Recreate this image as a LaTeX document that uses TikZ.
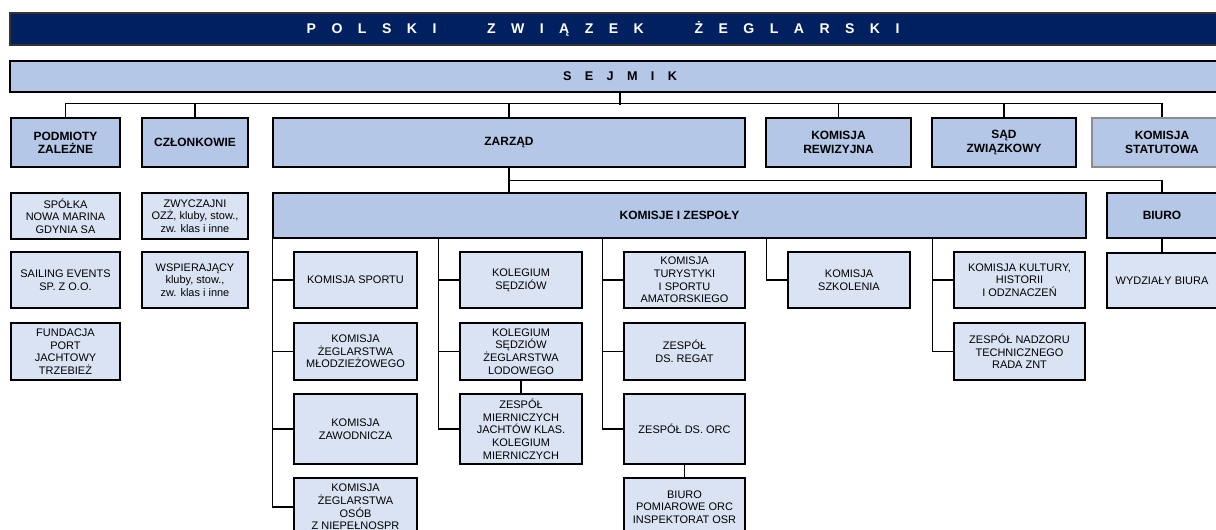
\documentclass[tikz,border=0pt]{standalone}
\usepackage{fontspec}
\setmainfont{Liberation Sans}

\definecolor{pzsnavy}{RGB}{0,32,96}
\definecolor{pzsblue}{RGB}{180,199,231}
\definecolor{pzslight}{RGB}{218,227,243}

\begin{document}
\begin{tikzpicture}
  [x=0.025cm, y=-0.025cm,
   titlebar/.style={rectangle, draw=black!80, line width=1pt, inner sep=0pt, minimum width=30.5cm},
   orgunit/.style={rectangle, draw, line width=1pt, fill=pzsblue, inner sep=0pt, align=center,
                   minimum height=1.225cm, font=\fontsize{8.5}{9.5}\selectfont\bfseries},
   subunit/.style={rectangle, draw, line width=1pt, fill=pzslight, inner sep=0pt, align=center,
                   minimum width=3.05cm, minimum height=1.4cm, font=\fontsize{7.8}{9}\selectfont},
   link/.style={draw, line width=1pt},]
  \useasboundingbox (0,0) rectangle (1216,529);
  \clip (0,0) rectangle (1216,529);

  % naglowek i sejmik
  \node[titlebar, fill=pzsnavy, text=white, minimum height=0.8cm, font=\fontsize{10}{12}\selectfont\bfseries] (pzs) at (620,29)
    {\spaceskip=11pt P O L S K I\hspace{36pt}Z W I Ą Z E K\hspace{36pt}Ż E G L A R S K I\hspace*{24pt}};
  \node[titlebar, fill=pzsblue, draw=black, minimum height=0.775cm, font=\fontsize{9}{11}\selectfont\bfseries] (sejmik) at (620,76.5)
    {\spaceskip=9.5pt S E J M I K};

  % organy
  \node[orgunit, minimum width=2.725cm] (podm) at (65.5,142.5) {PODMIOTY\\ZALEŻNE};
  \node[orgunit, minimum width=2.65cm] (czl) at (195,142.5) {CZŁONKOWIE};
  \node[orgunit, minimum width=11.8cm] (zarz) at (509,142.5) {ZARZĄD};
  \node[orgunit, minimum width=3.625cm] (rew) at (838.5,142.5) {KOMISJA\\REWIZYJNA};
  \node[orgunit, minimum width=3.6cm] (sad) at (1004,142.5) {SĄD\\ZWIĄZKOWY};
  \node[orgunit, draw=black!45, minimum width=3.5cm] (stat) at (1162,142.5) {KOMISJA\\STATUTOWA};

  \node[orgunit, minimum width=20.325cm, minimum height=1.125cm] (kz) at (679.5,215.5) {KOMISJE I ZESPOŁY};
  \node[orgunit, minimum width=2.75cm, minimum height=1.125cm] (biuro) at (1162,215.5) {BIURO};

  % podmioty i czlonkowie
  \node[subunit, minimum width=2.725cm, minimum height=1.15cm] (spolka) at (65.5,216) {SPÓŁKA\\NOWA MARINA\\GDYNIA SA};
  \node[subunit, minimum width=2.725cm] (sailing) at (65.5,280) {SAILING EVENTS\\SP. Z O.O.};
  \node[subunit, minimum width=2.725cm, minimum height=1.425cm] (fund) at (65.5,351.5) {FUNDACJA\\PORT\\JACHTOWY\\TRZEBIEŻ};
  \node[subunit, minimum width=2.65cm, minimum height=1.15cm] (zwycz) at (195,216) {ZWYCZAJNI\\OZŻ, kluby, stow.,\\zw. klas i inne};
  \node[subunit, minimum width=2.65cm] (wspier) at (195,280) {WSPIERAJĄCY\\kluby, stow.,\\zw. klas i inne};

  % komisje i zespoly
  \node[subunit, minimum width=3.075cm] (sport) at (355.5,280) {KOMISJA SPORTU};
  \node[subunit, minimum width=3.075cm, minimum height=1.425cm] (mlodz) at (355.5,351.5) {KOMISJA\\ŻEGLARSTWA\\MŁODZIEŻOWEGO};
  \node[subunit, minimum width=3.075cm, minimum height=1.75cm] (zawod) at (355.5,429) {KOMISJA\\ZAWODNICZA};
  \node[subunit, minimum width=3.075cm, minimum height=1.45cm] (osob) at (355.5,507) {KOMISJA\\ŻEGLARSTWA\\OSÓB\\Z NIEPEŁNOSPR};

  \node[subunit] (sedz) at (521,280) {KOLEGIUM\\SĘDZIÓW};
  \node[subunit, minimum height=1.425cm] (lodow) at (521,351.5) {KOLEGIUM\\SĘDZIÓW\\ŻEGLARSTWA\\LODOWEGO};
  \node[subunit, minimum height=1.75cm] (mierni) at (521,429) {ZESPÓŁ\\MIERNICZYCH\\JACHTÓW KLAS.\\KOLEGIUM\\MIERNICZYCH};

  \node[subunit, minimum width=3.025cm] (tury) at (684.5,280) {KOMISJA\\TURYSTYKI\\I SPORTU\\AMATORSKIEGO};
  \node[subunit, minimum width=3.025cm, minimum height=1.425cm] (regat) at (684.5,351.5) {ZESPÓŁ\\DS. REGAT};
  \node[subunit, minimum width=3.025cm, minimum height=1.75cm] (orc) at (684.5,429) {ZESPÓŁ DS. ORC};
  \node[subunit, minimum width=3.025cm, minimum height=1.45cm] (pomiar) at (684.5,507) {BIURO\\POMIAROWE ORC\\INSPEKTORAT OSR};

  \node[subunit] (szkol) at (849,280) {KOMISJA\\SZKOLENIA};

  \node[subunit, minimum width=3.275cm] (kult) at (1019.5,280) {KOMISJA KULTURY,\\HISTORII\\I ODZNACZEŃ};
  \node[subunit, minimum width=3.275cm, minimum height=1.425cm] (znt) at (1019.5,351.5) {ZESPÓŁ NADZORU\\TECHNICZNEGO\\RADA ZNT};

  \node[subunit, minimum width=2.75cm, minimum height=1.375cm] (wydz) at (1162,280.5) {WYDZIAŁY BIURA};

  % polaczenia
  \draw[link] (sejmik.south) -- ++(0,12);
  \draw[link] (podm.north) -- ++(0,-14) -| (stat.north);
  \foreach \n in {czl,zarz,rew,sad}
    \draw[link] (\n.north) -- ++(0,-14);
  \draw[link] (zarz.south) -- (zarz.south |- kz.north);
  \draw[link] (zarz.south) ++(0,13) -| (biuro.north);
  \draw[link] (biuro.south) -- (wydz.north);

  \foreach \b in {sport,mlodz,zawod,sedz,lodow,tury,regat,kult}
    \draw[link] (\b.west) -- ++(-21,0);
  \foreach \b in {osob,mierni,orc,szkol,znt}
    \draw[link] (\b.west) -- ++(-21,0) coordinate (t) -- (t |- kz.south);
  \draw[link] (lodow.south) -- (mierni.north);
  \draw[link] (orc.south) -- (pomiar.north);
\end{tikzpicture}
\end{document}
